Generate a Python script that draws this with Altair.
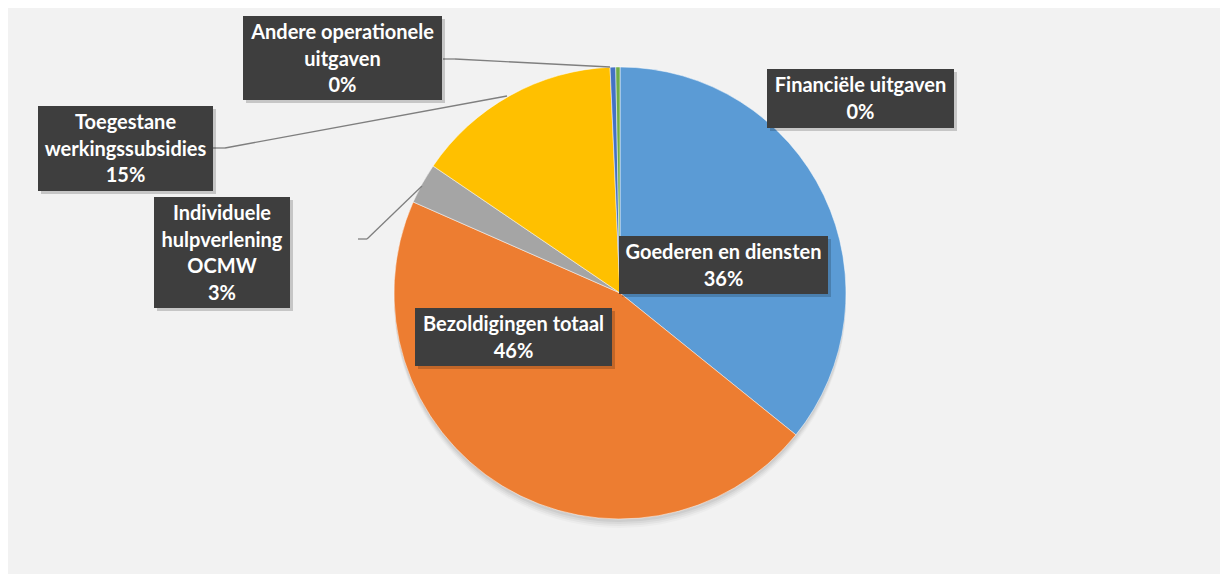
import altair as alt
import pandas as pd

# ---- data ----
categories = [
    "Goederen en diensten",
    "Bezoldigingen totaal",
    "Individuele hulpverlening OCMW",
    "Toegestane werkingssubsidies",
    "Andere operationele uitgaven",
    "Financiële uitgaven",
]
values = [35.8, 45.8, 2.9, 14.8, 0.4, 0.3]
pct_labels = ["36%", "46%", "3%", "15%", "0%", "0%"]
label_lines = [
    ["Goederen en diensten"],
    ["Bezoldigingen totaal"],
    ["Individuele", "hulpverlening", "OCMW"],
    ["Toegestane", "werkingssubsidies"],
    ["Andere operationele", "uitgaven"],
    ["Financiële uitgaven"],
]
colors = ["#5B9BD5", "#ED7D31", "#A5A5A5", "#FFC000", "#4472C4", "#70AD47"]

# ---- layout (chart pixel coordinates) ----
W, H = 1212, 566
CX, CY, R = 612, 285, 226
# label boxes: x1, y1, x2, y2
boxes = [
    (611, 228, 820, 286),
    (407, 300, 604, 358),
    (146, 189, 282, 300),
    (30, 98, 205, 183),
    (235, 8, 434, 92),
    (759, 61, 946, 120),
]
LINE_H = 26.5
# leader line segments: x1, y1, x2, y2
leaders = [
    (435, 51, 447, 51), (447, 51, 602, 59),
    (205, 140, 217, 140), (217, 140, 499, 88),
    (350, 231, 359, 231), (359, 231, 414, 178),
]

pie_df = pd.DataFrame({
    "cat": categories,
    "val": values,
    "idx": list(range(len(categories))),
})

box_df = pd.DataFrame(
    [{"x1": b[0], "y1": b[1], "x2": b[2], "y2": b[3],
      "sx1": b[0] + 3, "sy1": b[1] + 3, "sx2": b[2] + 3, "sy2": b[3] + 3}
     for b in boxes]
)

txt_rows = []
for i, b in enumerate(boxes):
    lines = label_lines[i] + [pct_labels[i]]
    cxm = (b[0] + b[2]) / 2
    for j, t in enumerate(lines):
        txt_rows.append({"x": cxm, "y": b[1] + 17 + j * LINE_H, "t": t})
txt_df = pd.DataFrame(txt_rows)

lead_df = pd.DataFrame([{"x1": l[0], "y1": l[1], "x2": l[2], "y2": l[3]} for l in leaders])

xs = alt.Scale(domain=[0, W], nice=False, zero=False)
ys = alt.Scale(domain=[0, H], nice=False, zero=False, reverse=True)

theta = alt.Theta("val:Q", stack=True)
order = alt.Order("idx:Q")
color = alt.Color("cat:N", scale=alt.Scale(domain=categories, range=colors), legend=None)

shadows = []
for dy, dr, op in [(9, 0, 0.025), (7, 0, 0.035), (5, 0, 0.045), (3, 0, 0.05)]:
    shadows.append(
        alt.Chart(pie_df).mark_arc(radius=R + dr, color="#000000", opacity=op).encode(
            theta=theta, order=order,
            x=alt.value(CX), y=alt.value(CY + dy),
        )
    )

pie = alt.Chart(pie_df).mark_arc(radius=R, stroke="#FFFFFF", strokeWidth=0.5).encode(
    theta=theta, order=order, color=color,
    x=alt.value(CX), y=alt.value(CY),
)

leader_layer = alt.Chart(lead_df).mark_rule(color="#7F7F7F", strokeWidth=1.3).encode(
    x=alt.X("x1:Q", scale=xs, axis=None), x2="x2:Q",
    y=alt.Y("y1:Q", scale=ys, axis=None), y2="y2:Q",
)

box_shadow = alt.Chart(box_df).mark_rect(color="#000000", opacity=0.18).encode(
    x=alt.X("sx1:Q", scale=xs, axis=None), x2="sx2:Q",
    y=alt.Y("sy1:Q", scale=ys, axis=None), y2="sy2:Q",
)
box_layer = alt.Chart(box_df).mark_rect(color="#3E3E3E").encode(
    x=alt.X("x1:Q", scale=xs, axis=None), x2="x2:Q",
    y=alt.Y("y1:Q", scale=ys, axis=None), y2="y2:Q",
)
text_layer = alt.Chart(txt_df).mark_text(
    font="Lato", fontSize=20, fontWeight="bold", color="#FFFFFF",
    align="center", baseline="middle",
).encode(
    x=alt.X("x:Q", scale=xs, axis=None),
    y=alt.Y("y:Q", scale=ys, axis=None),
    text="t:N",
)

chart = alt.layer(
    *shadows, pie, leader_layer, box_shadow, box_layer, text_layer
).properties(
    width=W, height=H, background="#F2F2F2", padding=0,
).configure_view(stroke=None)

chart.save("out.html", embed_options={"renderer": "svg", "actions": False})
